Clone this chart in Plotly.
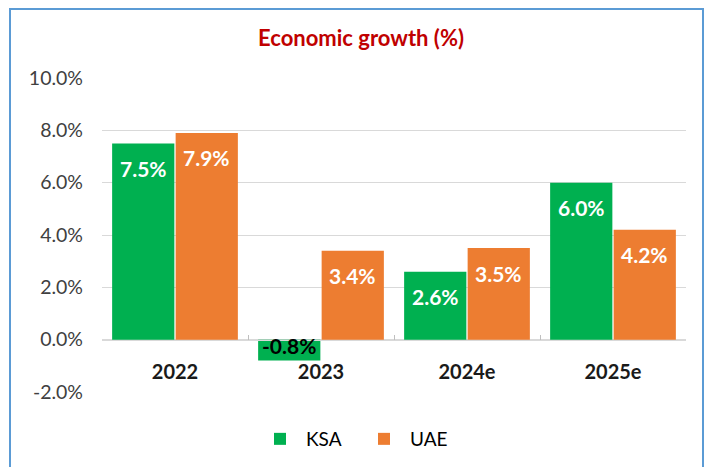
import plotly.graph_objects as go

categories = ["2022", "2023", "2024e", "2025e"]
ksa = [0.075, -0.008, 0.026, 0.060]
uae = [0.079, 0.034, 0.035, 0.042]
tick_vals = [-0.02, 0.0, 0.02, 0.04, 0.06, 0.08, 0.10]
tick_text = ["-2.0%", "0.0%", "2.0%", "4.0%", "6.0%", "8.0%", "10.0%"]
series = [("KSA", ksa), ("UAE", uae)]

GREEN = "#00B050"
ORANGE = "#ED7D31"
FONT = "Lato"

W, H = 712, 467
OFF = 8  # page offset of the figure inside the browser window
# target screen pixels of the plot area
SL, SR, ST, SB = 102, 686, 78, 392
L, T = SL - OFF, ST - OFF
R = W - (SR - OFF)
B = H - (SB - OFF)
pw, ph = W - L - R, H - T - B

def px_x(sx):
    return (sx - OFF - L) / pw

def px_y(sy):
    return (H - B - (sy - OFF)) / ph

ymin, ymax = -0.02, 0.10
bargap, bargroupgap = 0.13, 0.02
cat_px = pw / len(categories)
bar_px = cat_px * (1 - bargap) / 2
shift = bar_px / 2

fig = go.Figure()
fig.add_trace(go.Bar(name="KSA", x=categories, y=ksa, marker_color=GREEN,
                     marker_line_width=0, textposition="none"))
fig.add_trace(go.Bar(name="UAE", x=categories, y=uae, marker_color=ORANGE,
                     marker_line_width=0, textposition="none"))

annotations = []
for k, (name, vals) in enumerate(series):
    xs = -shift if k == 0 else shift
    for i, v in enumerate(vals):
        annotations.append(dict(
            x=i, y=v, xref="x", yref="y", xshift=xs,
            yshift=-25 if v >= 0 else 15,
            text=f"<b>{v:.1%}</b>", showarrow=False,
            xanchor="center", yanchor="middle",
            font=dict(family=FONT, size=21, color="white" if v >= 0 else "black"),
        ))

fig.update_layout(
    width=W, height=H,
    margin=dict(l=L, r=R, t=T, b=B),
    paper_bgcolor="white", plot_bgcolor="white",
    barmode="group", bargap=bargap, bargroupgap=bargroupgap,
    title=dict(text="<b>Economic growth (%)</b>", x=px_x(361), xanchor="center",
               xref="paper", y=1 - (38 - OFF) / H, yanchor="middle",
               font=dict(family=FONT, size=22, color="#C00000")),
    font=dict(family=FONT, color="#404040"),
    showlegend=True,
    legend=dict(orientation="h", x=px_x(254), xanchor="left", y=px_y(439), yanchor="middle",
                font=dict(family=FONT, size=19, color="black"),
                itemwidth=42, entrywidth=47, traceorder="normal", bgcolor="rgba(0,0,0,0)"),
    xaxis=dict(
        type="category", categoryorder="array", categoryarray=categories,
        anchor="free", position=(0 - ymin) / (ymax - ymin),
        showline=True, linecolor="#D9D9D9", linewidth=1,
        ticks="inside", ticklen=5, tickcolor="#BFBFBF", tickson="boundaries",
        tickfont=dict(family=FONT, size=20, color="#1a1a1a", weight="bold"),
        ticklabelstandoff=14, showgrid=False, tickangle=0,
    ),
    yaxis=dict(
        range=[ymin, ymax], tickvals=tick_vals, ticktext=tick_text,
        tickfont=dict(family=FONT, size=19.5, color="#404040"),
        showgrid=True, gridcolor="#D9D9D9", gridwidth=1,
        zeroline=False, ticks="", ticklabelstandoff=18,
    ),
    annotations=annotations,
    shapes=[dict(
        type="rect", xref="paper", yref="paper",
        x0=px_x(10), x1=px_x(703), y0=px_y(480), y1=px_y(9),
        line=dict(color="#5B9BD5", width=2), fillcolor="rgba(0,0,0,0)", layer="below",
    )],
)

fig.write_html("out.html")
